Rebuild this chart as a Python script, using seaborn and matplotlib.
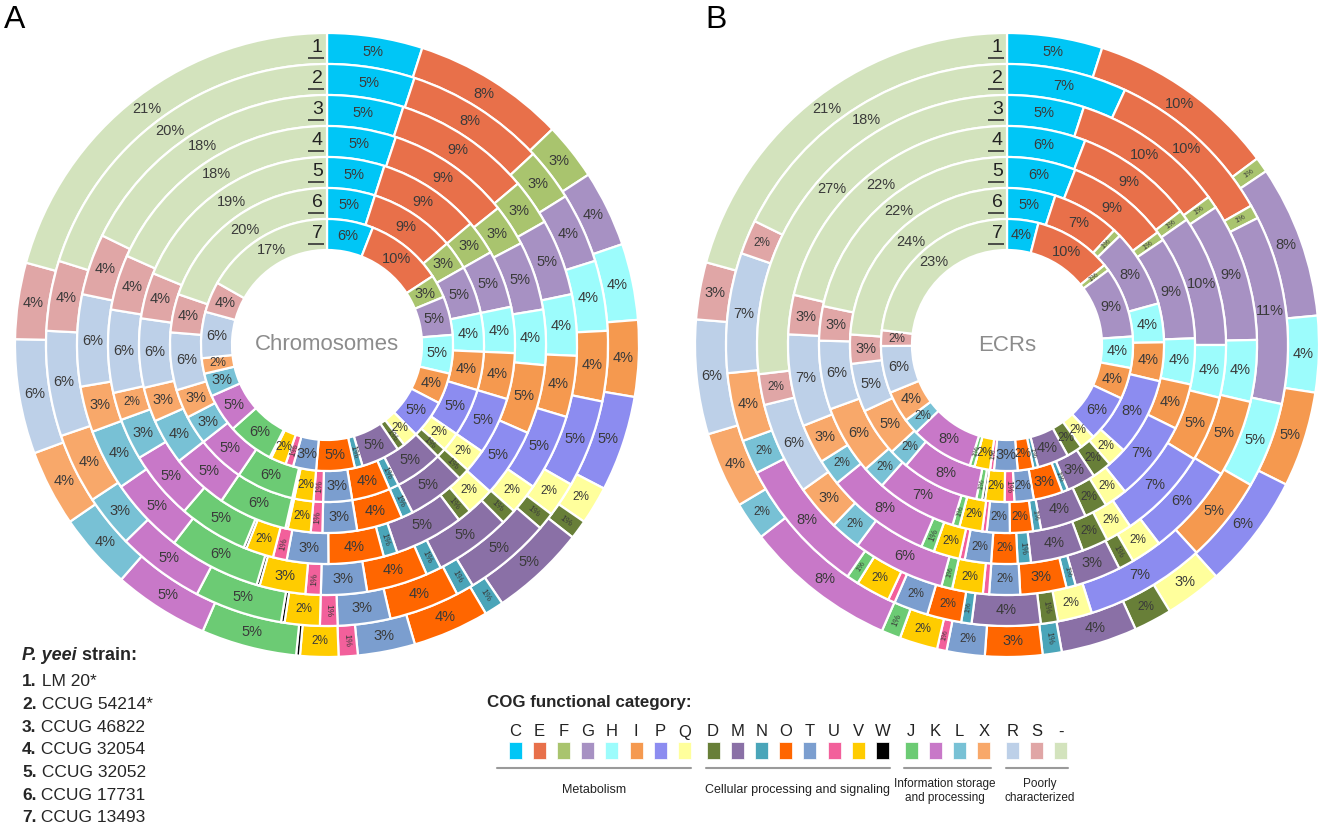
import matplotlib
matplotlib.use('Agg')
import matplotlib.pyplot as plt
import seaborn as sns
from matplotlib.patches import Rectangle

# COG categories, clockwise from 12 o'clock
cog = ['C', 'E', 'F', 'G', 'H', 'I', 'P', 'Q', 'D', 'M', 'N', 'O', 'T', 'U', 'V', 'W',
       'J', 'K', 'L', 'X', 'R', 'S', '-']
cog_hex = ['#00c6f6', '#e8704a', '#a9c46e', '#a791c3', '#9cfcfc', '#f5994f', '#8c8cf0', '#ffff9c',
           '#687f38', '#8a70a6', '#4aa5b9', '#ff6600', '#7b9ecf', '#f2609b', '#ffcc00', '#000000',
           '#6ccb74', '#c878c8', '#78c1d5', '#f8a86a', '#bdd0e8', '#e0a6a6', '#d3e3bd']
groups = ['Metabolism', 'Cellular processing and signaling',
          'Information storage\nand processing', 'Poorly\ncharacterized']
group_of = [0] * 8 + [1] * 8 + [2] * 4 + [3] * 3

# percentages per strain ring (1 = outer ring ... 7 = inner ring)
chrom = [
    [5, 8, 3, 4, 4, 4, 5, 2, 1, 5, 1, 4, 3, 1, 2, 0.2, 5, 5, 4, 4, 6, 4, 21],
    [5, 8, 3, 4, 4, 4, 5, 2, 1, 5, 1, 4, 3, 1, 2, 0.2, 5, 5, 3, 4, 6, 4, 20],
    [5, 9, 3, 5, 4, 4, 5, 2, 1, 5, 1, 4, 3, 1, 3, 0.2, 6, 5, 4, 3, 6, 4, 18],
    [5, 9, 3, 5, 4, 5, 5, 2, 1, 5, 1, 4, 3, 1, 2, 0.2, 5, 5, 3, 2, 6, 4, 18],
    [5, 9, 3, 5, 4, 4, 5, 2, 1, 5, 1, 4, 3, 1, 2, 0.2, 6, 5, 4, 3, 6, 4, 19],
    [5, 9, 3, 5, 4, 4, 5, 2, 1, 5, 1, 4, 3, 1, 2, 0.2, 6, 5, 3, 3, 6, 4, 20],
    [6, 10, 3, 5, 5, 4, 5, 2, 1, 5, 1, 5, 3, 1, 2, 0.2, 6, 5, 3, 2, 6, 4, 17],
]
ecrs = [
    [5, 10, 0.8, 8, 4, 5, 6, 3, 2, 4, 1, 3, 2, 0.5, 2, 0, 1, 8, 2, 4, 6, 3, 21],
    [7, 10, 0.8, 11, 5, 5, 7, 2, 1, 4, 0.6, 2, 2, 0.4, 2, 0, 0.7, 8, 2, 4, 7, 2, 18],
    [5, 10, 0.8, 9, 4, 5, 6, 2, 1, 3, 0.6, 3, 2, 0.4, 2, 0, 0.7, 6, 2, 3, 6, 2, 27],
    [6, 9, 0.8, 10, 4, 5, 7, 2, 2, 4, 1, 2, 2, 0.4, 2, 0, 1, 8, 2, 3, 7, 3, 22],
    [6, 9, 0.8, 9, 4, 4, 7, 2, 2, 4, 0.7, 2, 2, 0.4, 2, 0, 0.6, 7, 2, 6, 6, 3, 22],
    [5, 7, 0.8, 8, 4, 4, 8, 2, 2, 3, 0.6, 3, 2, 1, 2, 0.3, 0.6, 8, 2, 5, 5, 3, 24],
    [4, 10, 0.8, 9, 4, 4, 6, 2, 2, 4, 0.6, 2, 3, 0.5, 2, 0, 0.6, 8, 2, 4, 6, 2, 23],
]

strains = ['LM 20*', 'CCUG 54214*', 'CCUG 46822', 'CCUG 32054',
           'CCUG 32052', 'CCUG 17731', 'CCUG 13493']

sns.set_theme(style='white')
plt.rcParams['font.family'] = ['Liberation Sans', 'DejaVu Sans']
palette = sns.color_palette(cog_hex)

W, H = 1325, 835
fig = plt.figure(figsize=(W / 100, H / 100), dpi=100)

R = 312
inner = 95 / R
w = (1 - inner) / 7


def label_for(v):
    if v < 0.5:
        return '', 6
    if v < 1:
        return '1%', 5.5
    if v < 1.5:
        return '1%', 6.5
    if v < 2.5:
        return '%d%%' % round(v), 8.5
    return '%d%%' % round(v), 10.5


def donut(cx, cy, rings, title):
    ax = fig.add_axes([(cx - R) / W, (H - cy - R) / H, 2 * R / W, 2 * R / H])
    for k, vals in enumerate(rings):
        r = 1 - k * w
        wedges, _, autotexts = ax.pie(
            vals, radius=r, startangle=90, counterclock=False, colors=palette,
            autopct=lambda p: '', pctdistance=(r - w / 2) / r,
            wedgeprops=dict(width=w, edgecolor='white', linewidth=1.6))
        for wd in wedges:
            wd.set_clip_on(False)
        for wd, t, v in zip(wedges, autotexts, vals):
            s, fs = label_for(v)
            t.set_text(s)
            t.set_fontsize(fs)
            t.set_color('#3a3a3a')
            if v < 1.5:
                # thin slivers: turn the label along the radius
                ang = (wd.theta1 + wd.theta2) / 2 % 360
                if 90 < ang < 270:
                    ang -= 180
                t.set_rotation(ang)
                t.set_rotation_mode('anchor')
        # ring number, underlined
        rm = r - w / 2
        ax.text(-0.014, rm + 0.002, str(k + 1), ha='right', va='center',
                fontsize=14, color='#222222')
        ax.plot([-0.062, -0.01], [rm - 0.03, rm - 0.03], color='#333333', lw=1.2,
                solid_capstyle='butt', clip_on=False)
    ax.text(0, 0, title, ha='center', va='center', fontsize=16, color='#8c8c8c')
    ax.set_xlim(-1, 1)
    ax.set_ylim(-1, 1)
    ax.set_aspect('equal')
    ax.axis('off')
    return ax


donut(327, 345, chrom, 'Chromosomes')
donut(1007, 345, ecrs, 'ECRs')

# overlay for panel letters and legends (pixel coordinates)
ov = fig.add_axes([0, 0, 1, 1], zorder=-1)
ov.set_xlim(0, W)
ov.set_ylim(H, 0)
ov.axis('off')

ov.text(4, 20, 'A', fontsize=23, ha='left', va='center', color='black')
ov.text(705, 20, 'B', fontsize=23, ha='left', va='center', color='black')

# strain legend
t1 = ov.text(22, 655, 'P. yeei', fontsize=13, fontweight='bold', fontstyle='italic',
             ha='left', va='center')
ov.annotate(' strain:', xy=(1, 0), xycoords=t1, fontsize=13, fontweight='bold',
            ha='left', va='bottom')
for i, s in enumerate(strains):
    tn = ov.text(22, 682 + i * 22.6, '%d.' % (i + 1), fontsize=12.5, fontweight='bold',
                 ha='left', va='center')
    ov.annotate(' ' + s, xy=(1, 0), xycoords=tn, fontsize=12.5, ha='left', va='bottom')

# COG legend
ov.text(487, 703, 'COG functional category:', fontsize=12.2, fontweight='bold',
        ha='left', va='center')
xs = [515 + i * 24.2 + g * 4.5 for i, g in enumerate(group_of)]
for x, c, col in zip(xs, cog, cog_hex):
    ov.text(x, 732, c, fontsize=12, ha='center', va='center', color='#222222')
    ov.add_patch(Rectangle((x - 6.5, 742), 13, 17, facecolor=col, edgecolor='white', lw=0.5))
label_fs = [9, 9, 8.5, 8.5]
label_dx = [0, 0, -3, 3]
for g, name in enumerate(groups):
    gx = [x for x, gg in zip(xs, group_of) if gg == g]
    x0 = gx[0] - (18 if g == 0 else 7)
    x1 = gx[-1] + 7
    ov.plot([x0, x1], [768, 768], color='#9a9a9a', lw=1.5)
    ty = 790 if '\n' not in name else 791
    ov.text((x0 + x1) / 2 + label_dx[g], ty, name, fontsize=label_fs[g], ha='center',
            va='center', color='#222222', linespacing=1.2)

fig.savefig('out.png', dpi=100)
